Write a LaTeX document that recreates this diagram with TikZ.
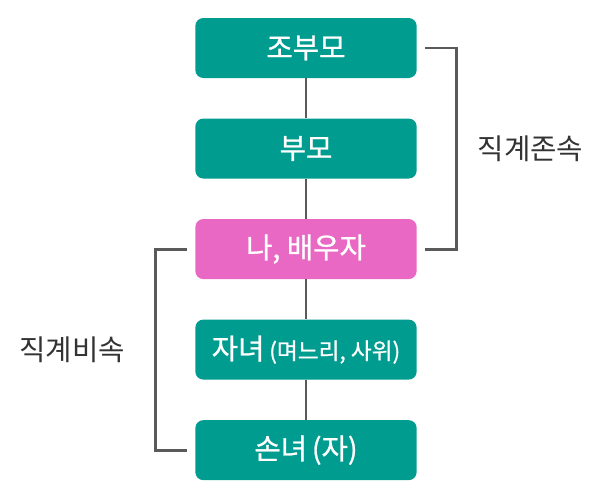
\documentclass[tikz,border=0pt]{standalone}
\usepackage{fontspec}
\newfontfamily\krfont{Noto Sans CJK KR}
\newfontfamily\krboxfont[FakeBold=0.9]{Noto Sans CJK KR}
\usepackage{xcolor}
\usetikzlibrary{positioning,calc}

\definecolor{boxteal}{HTML}{009C8F}
\definecolor{boxpink}{HTML}{E868C4}
\definecolor{linegray}{HTML}{5A5A5A}
\definecolor{labelgray}{HTML}{333333}

\begin{document}
\begin{tikzpicture}[x=0.75pt, y=-0.75pt,
  famnode/.style={rectangle, rounded corners=6pt, fill=boxteal, text=white,
    minimum width=166pt, minimum height=45pt, inner sep=0pt, font=\krboxfont\fontsize{21.5}{24}\selectfont},
  linkline/.style={draw=linegray, line width=2.2pt},
  sidelabel/.style={text=labelgray, font=\krfont\fontsize{21.5}{24}\selectfont}]
\useasboundingbox (0,0) rectangle (600,497);
% Family boxes
\node[famnode] (gp) at (306,48) {조부모};
\node[famnode, below=30pt of gp] (par) {부모};
\node[famnode, fill=boxpink, below=30pt of par] (me) {나, 배우자};
\node[famnode, below=30pt of me] (child) {자녀\,{\fontsize{17}{19}\selectfont(며느리, 사위)}};
\node[famnode, below=30pt of child] (gc) {손녀\,(자)};
% Links
\draw[linkline] (gp) -- (par);
\draw[linkline] (par) -- (me);
\draw[linkline] (me) -- (child);
\draw[linkline] (child) -- (gc);
% Ascendants bracket
\coordinate (ra) at ([xshift=6pt]gp.east);
\coordinate (rb) at ([xshift=6pt]me.east);
\coordinate (rmid) at ($(ra)!0.5!(rb)+(24pt,0pt)$);
\draw[linkline] (ra) -- ++(24pt,0) |- (rb);
\node[sidelabel, right=12pt of rmid] (asc) {직계존속};
% Descendants bracket
\coordinate (la) at ([xshift=-6pt]me.west);
\coordinate (lb) at ([xshift=-6pt]gc.west);
\coordinate (lmid) at ($(la)!0.5!(lb)+(-24pt,0pt)$);
\draw[linkline] (la) -- ++(-24pt,0) |- (lb);
\node[sidelabel, left=19pt of lmid] (desc) {직계비속};
\end{tikzpicture}
\end{document}
